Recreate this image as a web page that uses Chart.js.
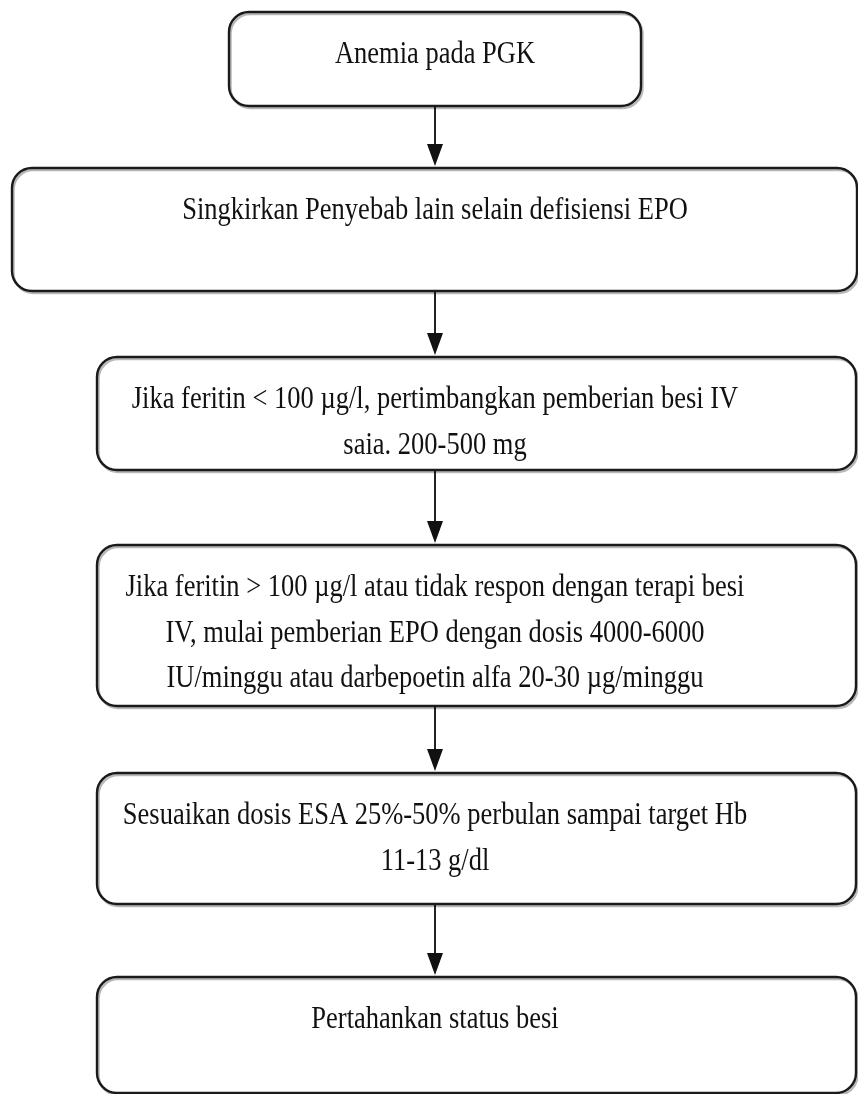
<!DOCTYPE html>
<html>
<head>
<meta charset="utf-8">
<script src="https://cdn.jsdelivr.net/npm/chart.js@4.4.1/dist/chart.umd.min.js"></script>
<style>
html,body{margin:0;padding:0;background:#fff;}
#wrap{width:858px;height:1094px;position:relative;}
</style>
</head>
<body>
<div id="wrap"><canvas id="c" width="858" height="1094"></canvas></div>
<script>
// Flowchart steps (text lines per box)
const stepLabels = [
  ["Anemia pada PGK"],
  ["Singkirkan Penyebab lain selain defisiensi EPO"],
  ["Jika feritin < 100 µg/l, pertimbangkan pemberian besi IV", "saia. 200-500 mg"],
  ["Jika feritin > 100 µg/l atau tidak respon dengan terapi besi", "IV, mulai pemberian EPO dengan dosis 4000-6000", "IU/minggu atau darbepoetin alfa 20-30 µg/minggu"],
  ["Sesuaikan dosis ESA 25%-50% perbulan sampai target Hb", "11-13 g/dl"],
  ["Pertahankan status besi"]
];
// Box extents in chart units (x: 0-858, y: 0-1094 downward)
const boxLeft   = [229, 12, 97, 97, 97, 97];
const boxRight  = [641, 857, 856, 856, 856, 856];
const boxTop    = [12, 168, 357, 545, 773, 977];
const boxBottom = [106, 291, 470, 706, 904, 1093];
const flowX = 435;

// arrows: from bottom of box i to top of box i+1 (shaft)
const arrowDatasets = [];
for (let i = 0; i < boxTop.length - 1; i++) {
  arrowDatasets.push({
    type: 'line',
    data: [{x: flowX, y: boxBottom[i]}, {x: flowX, y: boxTop[i + 1] - 18}],
    borderColor: '#222',
    borderWidth: 2,
    pointRadius: 0,
    fill: false
  });
}

const flowPlugin = {
  id: 'flow',
  afterDatasetsDraw(chart) {
    const ctx = chart.ctx;
    const xs = chart.scales.x, ys = chart.scales.y;
    ctx.save();
    // arrowheads
    for (let i = 0; i < boxTop.length - 1; i++) {
      const px = xs.getPixelForValue(flowX);
      const tip = ys.getPixelForValue(boxTop[i + 1]) - 2;
      ctx.beginPath();
      ctx.moveTo(px, tip);
      ctx.lineTo(px - 8, tip - 22);
      ctx.lineTo(px + 8, tip - 22);
      ctx.closePath();
      ctx.fillStyle = '#111';
      ctx.fill();
    }
    // boxes
    for (let i = 0; i < boxTop.length; i++) {
      const l = xs.getPixelForValue(boxLeft[i]);
      const r = xs.getPixelForValue(boxRight[i]);
      const t = ys.getPixelForValue(boxTop[i]);
      const b = ys.getPixelForValue(boxBottom[i]);
      // soft shadow
      ctx.beginPath();
      ctx.roundRect(l + 1.5, t + 2, r - l, b - t, 20);
      ctx.strokeStyle = 'rgba(0,0,0,0.28)';
      ctx.lineWidth = 2.5;
      ctx.stroke();
      ctx.beginPath();
      ctx.roundRect(l, t, r - l, b - t, 20);
      ctx.strokeStyle = '#1a1a1a';
      ctx.lineWidth = 2.4;
      ctx.stroke();
      // text
      ctx.fillStyle = '#111';
      ctx.font = '26.5px "Liberation Serif", "Times New Roman", serif';
      ctx.textAlign = 'center';
      ctx.textBaseline = 'alphabetic';
      const cx = xs.getPixelForValue(flowX);
      const lines = stepLabels[i];
      for (let j = 0; j < lines.length; j++) {
        ctx.save();
        const ty = t + 51 + j * 45.5;
        ctx.translate(cx, ty);
        ctx.scale(1, 1.2);
        ctx.fillText(lines[j], 0, 0);
        ctx.restore();
      }
    }
    ctx.restore();
  }
};

new Chart(document.getElementById('c'), {
  type: 'scatter',
  data: { datasets: arrowDatasets },
  options: {
    responsive: false,
    animation: false,
    events: [],
    layout: { padding: 0 },
    plugins: { legend: { display: false }, tooltip: { enabled: false } },
    scales: {
      x: { type: 'linear', min: 0, max: 858, display: false },
      y: { type: 'linear', min: 0, max: 1094, reverse: true, display: false }
    }
  },
  plugins: [flowPlugin]
});
</script>
</body>
</html>
